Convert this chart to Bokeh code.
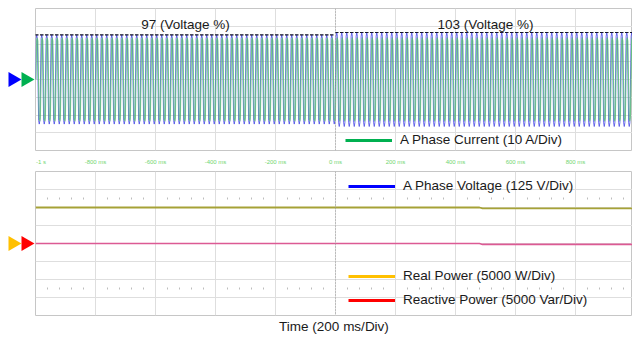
import numpy as np
from bokeh.plotting import figure
from bokeh.models import Range1d, FixedTicker, Legend, LegendItem, Span
from bokeh.layouts import gridplot
from bokeh.embed import file_html
from bokeh.resources import INLINE
from bokeh.core.properties import value

SEGMENT_START_MS = [-1000, 0]
SEGMENT_END_MS = [0, 1000]
VOLTAGE_PCT = [97, 103]
VOLTAGE_PEAK_V = [314, 331]
CURRENT_PEAK_A = [23.5, 23.5]
LINE_FREQ_HZ = 60
CURRENT_SHIFT_MS = 1.7          # on-screen offset between the two traces
# one cycle of the trace, normalised, as sampled on screen
CYCLE_SHAPE = [0.0, 0.92, 1.0, 0.92, 0.0, -0.92, -1.0, -0.92]

POWER_TIME_MS = [-1000, 480, 490, 1000]
REAL_POWER_W = [10000, 10000, 9750, 9750]
REACTIVE_POWER_VAR = [0, 0, -250, -250]

TICK_MS = [-1000, -800, -600, -400, -200, 0, 200, 400, 600, 800, 1000]
TICK_LABELS = ["-1 s", "-800 ms", "-600 ms", "-400 ms", "-200 ms", "0 ms",
               "200 ms", "400 ms", "600 ms", "800 ms", "1 s"]

VOLTS_PER_DIV = 125
AMPS_PER_DIV = 10
WATTS_PER_DIV = 5000
VARS_PER_DIV = 5000
HALF_DIVS = 4

# ---------------- styling ----------------
FONT = "Liberation Sans"
GRID_COLOR = "#dedede"
OUTLINE_COLOR = "#c6c6c6"
C_CURRENT = "#00b050"
C_VOLTAGE = "#0000ff"
C_REAL = "#ffc000"
C_REACT = "#ff0000"
W_TRI, W_MAIN = 35, 597
H_TOP, H_BOT = 167, 169
TOP_PAD = 8
X_VISIBLE_END = 990

# ---------------- build waveform from cycles ----------------
period = 1000.0 / LINE_FREQ_HZ
n = len(CYCLE_SHAPE)
t_w, v_w, i_w, pk_t, pk_v = [], [], [], [], []
for s, e, vp, ip in zip(SEGMENT_START_MS, SEGMENT_END_MS, VOLTAGE_PEAK_V, CURRENT_PEAK_A):
    ncyc = int(round((e - s) / period))
    for c in range(ncyc):
        t0 = s + c * period
        for k, f in enumerate(CYCLE_SHAPE):
            t_w.append(t0 + k * period / n)
            v_w.append(f * vp)
            i_w.append(f * ip)
        pk_t.append(t0 + period / 4)
        pk_v.append(vp)
t_w.append(SEGMENT_END_MS[-1]); v_w.append(0.0); i_w.append(0.0)
t_i = [t + CURRENT_SHIFT_MS for t in t_w]

div_ticks = list(range(-HALF_DIVS, HALF_DIVS + 1))


def style_frame(p):
    p.outline_line_color = OUTLINE_COLOR
    p.outline_line_width = 1
    p.xgrid.ticker = FixedTicker(ticks=TICK_MS)
    p.ygrid.ticker = FixedTicker(ticks=div_ticks)
    p.grid.grid_line_color = GRID_COLOR
    p.grid.grid_line_width = 1
    p.background_fill_color = "white"
    p.border_fill_color = "white"


x_range = Range1d(-1000, X_VISIBLE_END)

# ---------------- top panel ----------------
p1 = figure(width=W_MAIN, height=H_TOP, x_range=x_range, y_range=Range1d(-HALF_DIVS, HALF_DIVS),
            output_backend="svg", toolbar_location=None, y_axis_location=None,
            min_border_left=0, min_border_right=0, min_border_top=TOP_PAD, min_border_bottom=14)
p1.extra_y_ranges = {
    "V": Range1d(-HALF_DIVS * VOLTS_PER_DIV, HALF_DIVS * VOLTS_PER_DIV),
    "A": Range1d(-HALF_DIVS * AMPS_PER_DIV, HALF_DIVS * AMPS_PER_DIV),
}
style_frame(p1)

label_ticks = list(TICK_MS)
label_ticks[0] = TICK_MS[0] + 18  # keep first label inside the canvas
p1.xaxis.ticker = FixedTicker(ticks=label_ticks)
p1.xaxis.major_label_overrides = {t: lab for t, lab in zip(label_ticks, TICK_LABELS)}
p1.xaxis.major_label_text_font = FONT
p1.xaxis.major_label_text_font_size = "6px"
p1.xaxis.major_label_text_color = "#72d672"
p1.xaxis.major_label_standoff = 2
p1.xaxis.major_tick_line_color = None
p1.xaxis.minor_tick_line_color = None
p1.xaxis.axis_line_color = None

p1.add_layout(Span(location=0, dimension="height", line_color="#9a9a9a",
                   line_dash="1 2", line_width=1))

p1.line(t_w, v_w, y_range_name="V", line_color="#4646e6", line_width=0.8)
p1.scatter(pk_t, pk_v, y_range_name="V", marker="dash", size=3.5,
           line_color="#15152a", line_width=1.2)
p1.line(t_i, i_w, y_range_name="A", line_color="#55c868", line_alpha=0.75, line_width=1.1)

mid = [(s + e) / 2 for s, e in zip(SEGMENT_START_MS, SEGMENT_END_MS)]
p1.text(x=mid, y=[3.1] * len(mid), text=[f"{v} (Voltage %)" for v in VOLTAGE_PCT],
        text_align="center", text_baseline="middle", text_font=value(FONT),
        text_font_size="13.5px", text_color="#1a1a1a")

NAN = [float("nan")]
cur_key = p1.line(NAN, NAN, line_color=C_CURRENT, line_width=3)
leg1 = Legend(items=[LegendItem(label="A Phase Current (10 A/Div)", renderers=[cur_key])],
              location=(310, 3))
p1.add_layout(leg1)

# ---------------- bottom panel ----------------
p2 = figure(width=W_MAIN, height=H_BOT, x_range=x_range, y_range=Range1d(-HALF_DIVS, HALF_DIVS),
            output_backend="svg", toolbar_location=None, y_axis_location=None,
            min_border_left=0, min_border_right=0, min_border_top=4, min_border_bottom=20)
p2.extra_y_ranges = {
    "W": Range1d(-HALF_DIVS * WATTS_PER_DIV, HALF_DIVS * WATTS_PER_DIV),
    "var": Range1d(-HALF_DIVS * VARS_PER_DIV, HALF_DIVS * VARS_PER_DIV),
}
style_frame(p2)
p2.xaxis.ticker = FixedTicker(ticks=[])
p2.xaxis.axis_label = "Time (200 ms/Div)"
p2.xaxis.axis_label_text_font = FONT
p2.xaxis.axis_label_text_font_size = "13.5px"
p2.xaxis.axis_label_text_font_style = "normal"
p2.xaxis.axis_label_text_color = "#1a1a1a"
p2.xaxis.axis_label_standoff = 3
p2.xaxis.major_tick_line_color = None
p2.xaxis.minor_tick_line_color = None
p2.xaxis.axis_line_color = None

p2.add_layout(Span(location=0, dimension="height", line_color="#9a9a9a",
                   line_dash="1 2", line_width=1))

# graticule sub-division dots
sub_x = [a + (b - a) * k / 5 for a, b in zip(TICK_MS[:-1], TICK_MS[1:]) for k in range(1, 5)]
for yy in (2.5, -2.5):
    p2.scatter(sub_x, [yy] * len(sub_x), marker="dash", angle=np.pi / 2, size=2,
               line_color="#bdbdbd", line_width=1)

p2.line(POWER_TIME_MS, REAL_POWER_W, y_range_name="W", line_color="#a6a236", line_width=1.8)
p2.line(POWER_TIME_MS, REACTIVE_POWER_VAR, y_range_name="var", line_color="#dc5a94", line_width=1.6)

v_key = p2.line(NAN, NAN, line_color=C_VOLTAGE, line_width=3)
r_key = p2.line(NAN, NAN, line_color=C_REAL, line_width=3)
q_key = p2.line(NAN, NAN, line_color=C_REACT, line_width=3)
leg2 = Legend(items=[LegendItem(label="A Phase Voltage (125 V/Div)", renderers=[v_key])],
              location=(313, 122))
leg3 = Legend(items=[LegendItem(label="Real Power (5000 W/Div)", renderers=[r_key]),
                     LegendItem(label="Reactive Power (5000 Var/Div)", renderers=[q_key])],
              location=(313, 8), spacing=9)
p2.add_layout(leg2)
p2.add_layout(leg3)

for lg in (leg1, leg2, leg3):
    lg.glyph_width = 47
    lg.glyph_height = 14
    lg.label_height = 14
    lg.label_standoff = 8
    lg.padding = 0
    lg.margin = 0
    lg.border_line_color = None
    lg.background_fill_alpha = 0
    lg.label_text_font = FONT
    lg.label_text_font_size = "13.5px"
    lg.label_text_color = "#1a1a1a"

# ---------------- channel offset markers ----------------
def tri_fig(height, bottom, top, ranges, colors):
    t = figure(width=W_TRI, height=height, x_range=Range1d(0, W_TRI),
               y_range=Range1d(-HALF_DIVS, HALF_DIVS), output_backend="svg",
               toolbar_location=None, x_axis_location=None, y_axis_location=None,
               min_border_left=0, min_border_right=0, min_border_top=top,
               min_border_bottom=bottom)
    t.extra_y_ranges = ranges
    t.outline_line_color = None
    t.grid.visible = False
    for (name, col), xc in zip(colors, (12.33, 25.33)):
        t.scatter([xc], [0], y_range_name=name, marker="triangle", size=15,
                  angle=-np.pi / 2, fill_color=col, line_color=None)
    return t

tri1 = tri_fig(H_TOP, 14, TOP_PAD, dict(p1.extra_y_ranges), [("V", C_VOLTAGE), ("A", C_CURRENT)])
tri2 = tri_fig(H_BOT, 20, 4, dict(p2.extra_y_ranges), [("W", C_REAL), ("var", C_REACT)])

grid = gridplot([[tri1, p1], [tri2, p2]], toolbar_location=None)

open("out.html", "w").write(file_html(grid, INLINE))
